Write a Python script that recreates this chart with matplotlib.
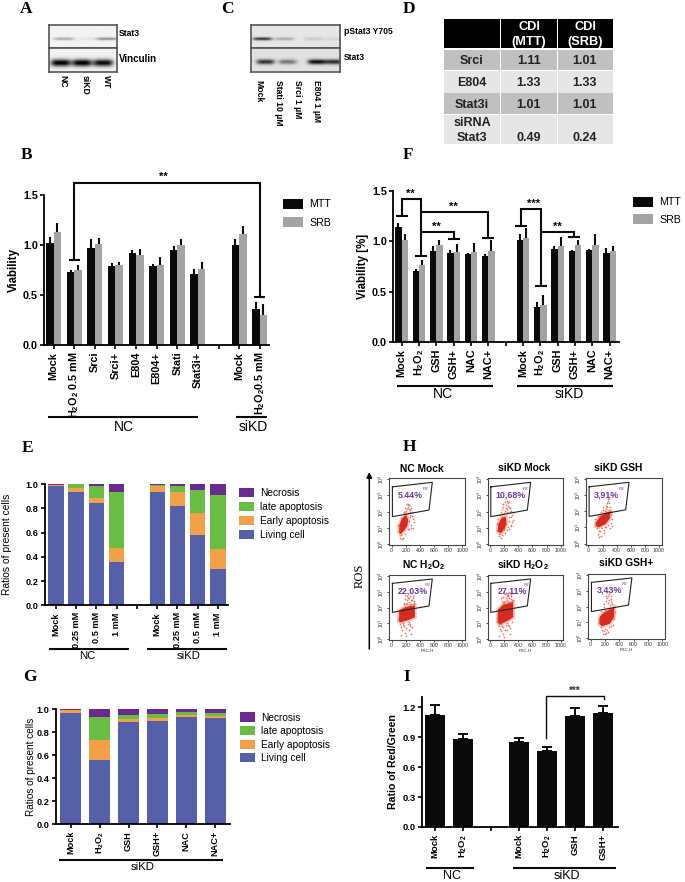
#!/usr/bin/env python3
import numpy as np
import matplotlib; matplotlib.use("Agg"); import matplotlib.pyplot as plt
from matplotlib.patches import Rectangle

plt.rcParams["font.family"] = ["Liberation Sans", "DejaVu Sans"]
plt.rcParams["mathtext.fontset"] = "custom"
plt.rcParams["mathtext.rm"] = "Liberation Sans"
plt.rcParams["mathtext.bf"] = "Liberation Sans:bold"
plt.rcParams["mathtext.default"] = "regular"

W = 685; H = 882
BLACK = "#0a0a0a"; GRAY = "#a3a3a3"
LIVING = "#5660a9"; EARLY = "#f3a04b"; LATE = "#69bd45"; NECRO = "#6b2b8e"
H2O2 = "H$_2$O$_2$"

# Panel A / C blots: band darkness per lane
A_LANES = ["NC", "siKD", "WT"]
A_STAT3 = [0.30, 0.06, 0.42]
A_VINC = [0.97, 0.97, 0.92]
C_LANES = ["Mock", "Stati 10 µM", "Srci 1 µM", "E804 1 µM"]
C_PSTAT = [0.72, 0.24, 0.12, 0.07]
C_STAT3 = [0.70, 0.42, 0.85, 0.72]

# Panel D
D_COLS = ["CDI\n(MTT)", "CDI\n(SRB)"]
D_ROWS = ["Srci", "E804", "Stat3i", "siRNA\nStat3"]
D_MTT = ["1.11", "1.33", "1.01", "0.49"]
D_SRB = ["1.01", "1.33", "1.01", "0.24"]

# Panel B
B_LABELS = ["Mock", H2O2 + " 0.5 mM", "Srci", "Srci+", "E804", "E804+", "Stati", "Stat3i+", "", "Mock", H2O2 + "0.5 mM"]
B_MTT = [1.02, 0.73, 0.97, 0.79, 0.92, 0.79, 0.95, 0.71, np.nan, 1.00, 0.36]
B_SRB = [1.13, 0.75, 1.01, 0.80, 0.90, 0.80, 1.00, 0.76, np.nan, 1.11, 0.30]
B_MTT_ERR = [0.06, 0.02, 0.09, 0.03, 0.03, 0.02, 0.04, 0.05, np.nan, 0.06, 0.07]
B_SRB_ERR = [0.09, 0.05, 0.06, 0.03, 0.06, 0.08, 0.06, 0.07, np.nan, 0.08, 0.11]

# Panel F
F_LABELS = ["Mock", H2O2, "GSH", "GSH+", "NAC", "NAC+", "", "Mock", H2O2, "GSH", "GSH+", "NAC", "NAC+"]
F_MTT = [1.14, 0.71, 0.90, 0.88, 0.87, 0.85, np.nan, 1.01, 0.35, 0.92, 0.905, 0.91, 0.88]
F_SRB = [1.01, 0.76, 0.96, 0.89, 0.89, 0.90, np.nan, 1.03, 0.37, 0.95, 0.96, 0.96, 0.90]
F_MTT_ERR = [0.04, 0.02, 0.05, 0.03, 0.01, 0.02, np.nan, 0.06, 0.05, 0.03, 0.01, 0.01, 0.05]
F_SRB_ERR = [0.06, 0.05, 0.05, 0.08, 0.09, 0.11, np.nan, 0.10, 0.10, 0.09, 0.05, 0.11, 0.05]

# Panel E stacked fractions
E_LABELS = ["Mock", "0.25 mM", "0.5 mM", "1 mM", "", "Mock", "0.25 mM", "0.5 mM", "1 mM"]
E_LIVING = [0.99, 0.935, 0.845, 0.36, 0, 0.94, 0.82, 0.58, 0.30]
E_EARLY = [0.007, 0.035, 0.045, 0.115, 0, 0.05, 0.12, 0.18, 0.165]
E_LATE = [0.001, 0.03, 0.10, 0.465, 0, 0.008, 0.05, 0.195, 0.45]
E_NECRO = [0.002, 0.0, 0.01, 0.06, 0, 0.002, 0.01, 0.045, 0.085]

# Panel G stacked fractions
G_LABELS = ["Mock", H2O2, "GSH", "GSH+", "NAC", "NAC+"]
G_LIVING = [0.97, 0.56, 0.885, 0.895, 0.93, 0.92]
G_EARLY = [0.025, 0.17, 0.03, 0.025, 0.02, 0.025]
G_LATE = [0.002, 0.20, 0.035, 0.04, 0.03, 0.025]
G_NECRO = [0.003, 0.07, 0.05, 0.04, 0.02, 0.03]

# Panel I
I_LABELS = ["Mock", H2O2, "", "Mock", H2O2, "GSH", "GSH+"]
I_VALUES = [1.12, 0.885, np.nan, 0.855, 0.765, 1.115, 1.14]
I_ERR = [0.10, 0.05, np.nan, 0.04, 0.04, 0.08, 0.07]

# Panel H flow plots: dense core outline and outlying events (FSC, log10 ROS)
H_GATE_X = [10, 575, 528, 10]
H_GATE_Y = [3.53, 3.81, 2.10, 1.69]

NCM_CORE_X = [110, 115, 150, 200, 225, 215, 170, 125]
NCM_CORE_Y = [0.75, 1.15, 1.55, 1.75, 1.50, 1.15, 0.85, 0.65]
NCM_X = [170, 190, 210, 230, 250, 270, 285, 180, 205, 225, 245, 265, 200, 235, 255, 215, 240, 260, 290, 300, 310, 280, 270, 250, 130, 100, 95, 120, 240, 260, 105, 140, 230, 300, 165, 195]
NCM_Y = [2.00, 2.25, 2.45, 2.50, 2.40, 2.20, 2.00, 1.90, 2.05, 2.30, 2.15, 1.95, 1.85, 1.90, 1.80, 2.15, 2.40, 2.10, 1.75, 1.55, 1.35, 1.20, 1.00, 0.90, 0.55, 0.85, 1.20, 0.40, 1.40, 1.65, 1.05, 0.30, 0.95, 1.00, 0.35, 0.60]

SKM_CORE_X = [115, 125, 170, 215, 225, 200, 150]
SKM_CORE_Y = [0.80, 1.25, 1.60, 1.65, 1.30, 0.95, 0.70]
SKM_X = [150, 170, 190, 210, 235, 255, 275, 295, 165, 185, 205, 225, 245, 265, 285, 305, 180, 200, 220, 240, 260, 280, 300, 320, 330, 310, 290, 270, 250, 120, 100, 95, 130, 150, 175, 210, 245, 270, 110, 140, 195, 230, 265, 300]
SKM_Y = [1.95, 2.15, 2.45, 2.60, 2.65, 2.55, 2.30, 2.05, 1.85, 2.30, 2.05, 2.40, 2.15, 2.60, 1.95, 1.80, 2.50, 1.90, 2.20, 1.95, 2.35, 2.20, 1.70, 1.95, 1.50, 1.35, 1.15, 1.40, 1.05, 0.65, 0.85, 1.25, 0.50, 0.40, 0.55, 0.70, 0.85, 0.95, 1.55, 1.80, 0.95, 1.25, 1.65, 1.10]

SKG_CORE_X = [110, 120, 170, 260, 305, 300, 240, 150]
SKG_CORE_Y = [1.10, 1.35, 1.65, 1.90, 1.95, 1.60, 1.25, 1.05]
SKG_X = [250, 265, 280, 295, 270, 285, 300, 255, 275, 290, 310, 325, 330, 320, 200, 180, 160, 210, 230, 150, 120, 130, 100, 90, 145, 170, 195, 225, 250, 280, 180, 215, 240, 300, 335, 140]
SKG_Y = [2.35, 2.55, 2.75, 2.50, 2.25, 2.10, 2.30, 2.15, 2.65, 2.85, 2.05, 1.85, 1.50, 1.25, 2.10, 1.95, 1.80, 2.25, 2.05, 0.75, 0.95, 0.60, 1.25, 1.50, 0.40, 0.80, 0.95, 0.85, 1.05, 1.15, 0.50, 0.65, 1.00, 0.95, 1.10, 1.70]

NCH_CORE_X = [110, 115, 200, 320, 320, 240, 130]
NCH_CORE_Y = [1.15, 1.80, 2.00, 2.10, 1.40, 1.25, 1.10]
NCH_X = [170, 190, 210, 230, 250, 270, 290, 310, 180, 200, 220, 240, 260, 280, 300, 320, 195, 215, 235, 255, 275, 295, 315, 120, 135, 150, 165, 185, 205, 225, 245, 265, 280, 130, 160, 200, 260, 180, 240, 100, 95, 285]
NCH_Y = [2.30, 2.55, 2.70, 2.85, 2.60, 2.90, 2.45, 2.30, 2.20, 2.25, 2.50, 2.35, 2.70, 2.20, 2.60, 2.40, 2.80, 2.30, 2.60, 2.20, 2.45, 2.75, 2.20, 0.95, 0.75, 0.55, 0.90, 0.40, 0.70, 0.95, 0.60, 0.85, 0.35, 0.25, 1.00, 0.20, 0.95, 0.85, 1.05, 1.50, 1.25, 0.75]

SKH_CORE_X = [115, 120, 190, 320, 320, 250, 135]
SKH_CORE_Y = [1.15, 1.85, 2.15, 2.30, 1.40, 1.20, 0.95]
SKH_X = [170, 190, 210, 230, 250, 270, 290, 310, 180, 200, 220, 240, 260, 280, 300, 320, 195, 215, 235, 255, 275, 295, 315, 160, 120, 135, 150, 165, 185, 205, 225, 245, 265, 280, 130, 160, 200, 260, 180, 240, 100, 95, 285, 305]
SKH_Y = [2.40, 2.65, 2.85, 2.95, 2.75, 3.00, 2.55, 2.40, 2.30, 2.35, 2.60, 2.45, 2.80, 2.35, 2.70, 2.50, 2.95, 2.40, 2.70, 2.35, 2.60, 2.85, 2.90, 2.60, 0.85, 0.65, 0.50, 0.85, 0.35, 0.60, 0.90, 0.55, 0.80, 0.30, 0.20, 0.95, 0.15, 0.90, 0.75, 1.00, 1.35, 1.05, 0.70, 1.10]

SKP_CORE_X = [125, 135, 190, 270, 320, 320, 260, 160]
SKP_CORE_Y = [0.95, 1.35, 1.60, 1.80, 1.90, 1.35, 0.95, 0.80]
SKP_X = [190, 210, 230, 250, 270, 290, 210, 240, 260, 280, 300, 225, 245, 265, 285, 180, 200, 325, 335, 330, 120, 110, 140, 160, 180, 205, 230, 255, 285, 165, 195, 220, 245, 150, 305]
SKP_Y = [2.15, 2.35, 2.55, 2.80, 2.95, 2.70, 2.70, 2.20, 2.45, 2.30, 2.15, 2.90, 2.65, 2.10, 2.50, 1.95, 1.80, 2.00, 1.65, 1.25, 0.95, 1.20, 0.70, 0.55, 0.45, 0.60, 0.50, 0.70, 0.80, 0.30, 0.25, 0.35, 0.40, 1.75, 0.85]


def px_axes(left, top, right, bottom):
    return fig.add_axes([left / W, 1 - bottom / H, (right - left) / W, (bottom - top) / H])


def style_axes(ax, tick_size, tick_len=3.0):
    for s in ("top", "right"):
        ax.spines[s].set_visible(False)
    for s in ("left", "bottom"):
        ax.spines[s].set_linewidth(1.3)
    ax.tick_params(axis="y", length=tick_len, width=1.2, labelsize=tick_size, pad=1.5)
    ax.tick_params(axis="x", length=tick_len, width=1.2, labelsize=tick_size, pad=2)
    for t in ax.get_yticklabels():
        t.set_fontweight("bold")


def set_xlabels(ax, labels, size):
    ax.set_xticks(range(len(labels)))
    ax.set_xticklabels(labels, rotation=90, fontsize=size, fontweight="bold", ha="center", va="top")


def grouped(ax, mtt, srb, mtt_err, srb_err, labels, xlim, tick_size, label_size, width):
    x = np.arange(len(labels))
    zeros = np.zeros(len(x))
    ax.bar(x - width / 2, mtt, width, color=BLACK, label="MTT")
    ax.bar(x + width / 2, srb, width, color=GRAY, label="SRB")
    ax.errorbar(x - width / 2, mtt, yerr=[zeros, mtt_err], fmt="none", ecolor=BLACK, elinewidth=1.5)
    ax.errorbar(x + width / 2, srb, yerr=[zeros, srb_err], fmt="none", ecolor=BLACK, elinewidth=1.5)
    ax.set_xlim(*xlim); ax.set_ylim(0, 1.5)
    ax.set_yticks([0, 0.5, 1.0, 1.5]); ax.set_yticklabels(["0.0", "0.5", "1.0", "1.5"])
    set_xlabels(ax, labels, label_size)
    style_axes(ax, tick_size)


def stacked(ax, living, early, late, necro, labels, xlim, width, tick_size, label_size):
    x = np.arange(len(labels))
    liv = np.array(living); ear = np.array(early); lat = np.array(late); nec = np.array(necro)
    ax.bar(x, nec, width, bottom=liv + ear + lat, color=NECRO, label="Necrosis")
    ax.bar(x, lat, width, bottom=liv + ear, color=LATE, label="late apoptosis")
    ax.bar(x, ear, width, bottom=liv, color=EARLY, label="Early apoptosis")
    ax.bar(x, liv, width, color=LIVING, label="Living cell")
    ax.set_xlim(*xlim); ax.set_ylim(0, 1.0)
    ax.set_yticks(np.arange(0, 1.01, 0.2)); ax.set_yticklabels(["0.0", "0.2", "0.4", "0.6", "0.8", "1.0"])
    set_xlabels(ax, labels, label_size)
    style_axes(ax, tick_size)


def legend_at(ax, left, top, size, pitch_gap, handle_len, handle_h=1.0):
    ax.legend(loc="upper left", bbox_to_anchor=(left / W, 1 - top / H), bbox_transform=fig.transFigure,
              frameon=False, borderpad=0, borderaxespad=0, fontsize=size, handlelength=handle_len,
              handleheight=handle_h, handletextpad=0.6, labelspacing=pitch_gap)


def bracket(ax, xs, ys, lw=1.5):
    ax.plot(xs, ys, color=BLACK, lw=lw, clip_on=False, solid_capstyle="butt", solid_joinstyle="miter", zorder=5)


def under(xa, xb, y, name, text_x, text_y, size=10):
    pg.plot([xa, xb], [y, y], color=BLACK, lw=1.5, solid_capstyle="butt")
    pg.text(text_x, text_y, name, fontsize=size, ha="center", va="center", clip_on=False)


def blot_strip(left, top, right, bottom, centers, half_w, half_h, strengths, bg):
    ax = px_axes(left, top, right, bottom)
    xx, yy = np.meshgrid(np.linspace(left, right, 220), np.linspace(top, bottom, 70))
    mid = top + (bottom - top) * 0.62
    img = np.full(xx.shape, bg)
    for c, s in zip(centers, strengths):
        img = img - s * np.exp(-((xx - c) / half_w) ** 4) * np.exp(-((yy - mid) / half_h) ** 2)
    ax.imshow(np.clip(img, 0, 1), cmap="gray", vmin=0, vmax=1, aspect="auto", interpolation="bilinear")
    ax.set_xticks([]); ax.set_yticks([])
    for s in ax.spines.values():
        s.set_color("#555555"); s.set_linewidth(1.2)


def flow_panel(left, top, right, bottom, core_x, core_y, xs, ys, pct, pct_x, title, title_x, title_y, fsc=False):
    ax = px_axes(left, top, right, bottom)
    ax.fill(core_x, core_y, color="#ee9486", lw=3.5, alpha=0.55, zorder=1)
    ax.fill(core_x, core_y, color="#d62c1f", lw=0.8, zorder=2)
    ax.scatter(xs, ys, s=1.6, color="#e8604f", lw=0, alpha=0.85, zorder=2)
    ax.plot(H_GATE_X + H_GATE_X[:1], H_GATE_Y + H_GATE_Y[:1], color="#222222", lw=0.8, zorder=3)
    ax.set_xlim(-34, 1038); ax.set_ylim(-0.06, 4.06)
    ax.set_xticks(range(0, 1001, 200)); ax.set_xticklabels(["0", "200", "400", "600", "800", "1000"])
    ax.set_yticks(range(5)); ax.set_yticklabels(["$10^{%d}$" % i for i in range(5)], rotation=90, va="center")
    ax.tick_params(axis="both", labelsize=3.8, length=1.5, width=0.5, pad=0.8, labelcolor="#333333")
    for s in ax.spines.values():
        s.set_color("#444444"); s.set_linewidth(0.8)
    ax.text(pct_x, 3.02, pct, color="#6a3d9a", fontsize=6.4, fontweight="bold", ha="center", va="center", zorder=4)
    ax.text(pct_x + 205, 3.42, "R2", color="#6a3d9a", fontsize=3.2, ha="center", va="center", zorder=4)
    if fsc:
        ax.set_xlabel("FSC-H", fontsize=3.2, labelpad=0.5, color="#333333")
    pg.text(title_x, title_y, title, fontsize=7.4, fontweight="bold", ha="center", va="center")


fig = plt.figure(figsize=(W / 100, H / 100), dpi=100)
pg = fig.add_axes([0, 0, 1, 1], zorder=10)
pg.set_xlim(0, W); pg.set_ylim(H, 0); pg.axis("off"); pg.patch.set_alpha(0)

# panel letters
for letter, lx, ly in [("A", 26, 9), ("C", 227, 9), ("D", 409, 9), ("B", 27, 155), ("F", 408, 155),
                       ("E", 28, 448), ("H", 409, 447), ("G", 30, 677), ("I", 407, 677)]:
    pg.text(lx, ly, letter, family=["Liberation Serif"], fontsize=12.5, fontweight="bold", ha="center", va="center")

# A
blot_strip(49.3, 25, 116.7, 48.3, [64, 88, 107], 10.5, 1.3, A_STAT3, 0.95)
blot_strip(49.3, 48.3, 116.7, 71.7, [61, 82, 103], 10, 3.5, A_VINC, 0.95)
pg.text(119, 34, "Stat3", fontsize=6.2, fontweight="bold", va="center")
pg.text(119, 59.5, "Vinculin", fontsize=7, fontweight="bold", va="center")
for name, lx in zip(A_LANES, [63, 85, 106.7]):
    pg.text(lx, 75, name, fontsize=6.2, fontweight="bold", rotation=-90, ha="center", va="top")

# C
blot_strip(250.7, 25, 340, 48.3, [262, 284, 313, 333], 9.5, 1.5, C_PSTAT, 0.90)
blot_strip(250.7, 48.3, 340, 71.5, [265, 287, 316, 333], 9, 2.4, C_STAT3, 0.88)
pg.text(344, 32, "pStat3 Y705", fontsize=6.2, fontweight="bold", va="center")
pg.text(344, 57, "Stat3", fontsize=6.2, fontweight="bold", va="center")
for name, lx in zip(C_LANES, [259, 279, 298, 317]):
    pg.text(lx, 80, name, fontsize=6.2, fontweight="bold", rotation=-90, ha="center", va="top")

# D table
col_edges = [(444.3, 500.3), (501, 557), (557.7, 613.3)]
row_edges = [(50, 70), (70.7, 92.7), (93.3, 114), (114.7, 144)]
row_fill = ["#c0c0c0", "#e6e6e6", "#c0c0c0", "#e6e6e6"]
for a, b in col_edges:
    pg.add_patch(Rectangle((a, 19), b - a, 28.7, color="black", lw=0))
    for (t, u), c in zip(row_edges, row_fill):
        pg.add_patch(Rectangle((a, t), b - a, u - t, color=c, lw=0))
for name, (a, b) in zip(D_COLS, col_edges[1:]):
    l1, l2 = name.split("\n")
    pg.text((a + b) / 2, 27, l1, color="white", fontsize=9.2, fontweight="bold", ha="center", va="center")
    pg.text((a + b) / 2, 42, l2, color="white", fontsize=9.2, fontweight="bold", ha="center", va="center")
for i, (t, u) in enumerate(row_edges):
    ty = 0.5 * (t + u) if i < 3 else 138
    if i < 3:
        pg.text(472, ty + 1, D_ROWS[i], fontsize=9, fontweight="bold", ha="center", va="center", color="#222222")
    else:
        l1, l2 = D_ROWS[i].split("\n")
        pg.text(472, 123, l1, fontsize=9, fontweight="bold", ha="center", va="center", color="#222222")
        pg.text(472, 138, l2, fontsize=9, fontweight="bold", ha="center", va="center", color="#222222")
    for name, cx in [(D_MTT[i], 529), (D_SRB[i], 585)]:
        pg.text(cx, ty + 1 if i < 3 else ty, name, fontsize=9, fontweight="bold", ha="center", va="center", color="#222222")

# B
ax_b = px_axes(44, 194.7, 269, 344.7)
grouped(ax_b, B_MTT, B_SRB, B_MTT_ERR, B_SRB_ERR, B_LABELS, (-0.47, 10.45), 7.8, 7.8, 0.36)
ax_b.set_ylabel("Viability", fontsize=8.3, fontweight="bold", labelpad=2)
bracket(ax_b, [1, 1, 10, 10], [0.85, 1.62, 1.62, 0.48])
bracket(ax_b, [0.72, 1.28], [0.85, 0.85])
bracket(ax_b, [9.72, 10.28], [0.48, 0.48])
ax_b.text(5.3, 1.63, "**", fontsize=8, ha="center", va="bottom", fontweight="bold")
legend_at(ax_b, 283, 199, 7.7, 0.74, 1.85)
under(48, 198, 417, "NC", 124, 427)
under(236, 267, 417, "siKD", 253, 427)

# F
ax_f = px_axes(393.3, 191.3, 619.3, 341.7)
grouped(ax_f, F_MTT, F_SRB, F_MTT_ERR, F_SRB_ERR, F_LABELS, (-0.48, 12.56), 7.8, 7.8, 0.36)
ax_f.set_ylabel("Viability [%]", fontsize=8.3, fontweight="bold", labelpad=2)
bracket(ax_f, [0, 0, 1.12, 1.12], [1.257, 1.42, 1.42, 0.855])
bracket(ax_f, [-0.35, 0.35], [1.257, 1.257])
bracket(ax_f, [0.76, 1.48], [0.855, 0.855])
bracket(ax_f, [1.12, 5, 5], [1.297, 1.297, 1.03])
bracket(ax_f, [4.65, 5.35], [1.03, 1.03])
bracket(ax_f, [1.12, 3, 3], [1.097, 1.097, 1.024])
bracket(ax_f, [2.65, 3.35], [1.024, 1.024])
bracket(ax_f, [6.9, 6.9, 8.02, 8.02], [1.157, 1.324, 1.324, 0.555])
bracket(ax_f, [6.55, 7.25], [1.157, 1.157])
bracket(ax_f, [7.67, 8.37], [0.555, 0.555])
bracket(ax_f, [8.02, 9.93, 9.93], [1.097, 1.097, 1.04])
bracket(ax_f, [9.58, 10.28], [1.04, 1.04])
for sx, sy, s in [(0.52, 1.42, "**"), (3.0, 1.30, "**"), (2.0, 1.10, "**"), (7.6, 1.33, "***"), (9.0, 1.10, "**")]:
    ax_f.text(sx, sy, s, fontsize=8, ha="center", va="bottom", fontweight="bold")
legend_at(ax_f, 633, 197, 7.7, 0.65, 1.85)
under(397, 493, 386, "NC", 443, 394)
under(517.5, 613, 386, "siKD", 569, 394)

# E
ax_e = px_axes(45, 484.3, 227.7, 605.3)
stacked(ax_e, E_LIVING, E_EARLY, E_LATE, E_NECRO, E_LABELS, (-0.54, 8.48), 0.76, 6.6, 6.6)
ax_e.set_ylabel("Ratios of present cells", fontsize=7.4, labelpad=10)
legend_at(ax_e, 239, 488, 7.3, 0.38, 1.5)
under(49.5, 129, 648.5, "NC", 87, 656, 8.2)
under(147.5, 227, 648.5, "siKD", 189, 656, 8.2)

# G
ax_g = px_axes(56, 709.3, 230, 824)
stacked(ax_g, G_LIVING, G_EARLY, G_LATE, G_NECRO, G_LABELS, (-0.52, 5.52), 0.73, 6.6, 6.4)
ax_g.set_ylabel("Ratios of present cells", fontsize=7.2, labelpad=0.5)
legend_at(ax_g, 240, 712.5, 7.3, 0.35, 1.5)
under(59, 222.7, 860, "siKD", 142.7, 867, 8.2)

# I
ax_i = px_axes(421.7, 696.7, 617.7, 827)
x_i = np.arange(len(I_LABELS))
ax_i.bar(x_i, I_VALUES, 0.72, color=BLACK)
ax_i.errorbar(x_i, I_VALUES, yerr=[np.zeros(len(x_i)), I_ERR], fmt="none", ecolor=BLACK, elinewidth=1.4, capsize=3.6, capthick=1.4)
ax_i.set_xlim(-0.49, 6.54); ax_i.set_ylim(0, 1.307)
ax_i.set_yticks([0, 0.3, 0.6, 0.9, 1.2]); ax_i.set_yticklabels(["0.0", "0.3", "0.6", "0.9", "1.2"])
set_xlabels(ax_i, I_LABELS, 6.6)
style_axes(ax_i, 6.8)
ax_i.set_ylabel("Ratio of Red/Green", fontsize=7.6, fontweight="bold", labelpad=3)
ax_i.plot([3.97, 3.97, 6.05, 6.05], [0.89, 1.317, 1.317, 1.28], color=BLACK, lw=1.0, clip_on=False)
ax_i.text(5.0, 1.32, "***", fontsize=7, ha="center", va="bottom", fontweight="bold", color="#333333")
under(425.7, 474.3, 868, "NC", 452.3, 876, 9)
under(512.7, 615.7, 868, "siKD", 567.3, 876, 9)

# H
flow_panel(389.3, 478.3, 465, 545, NCM_CORE_X, NCM_CORE_Y, NCM_X, NCM_Y, "5.44%", 269, "NC Mock", 421.7, 469)
flow_panel(487.7, 478.3, 563.3, 545, SKM_CORE_X, SKM_CORE_Y, SKM_X, SKM_Y, "10,68%", 292, "siKD Mock", 524, 467.7)
flow_panel(586, 478.3, 661.7, 544.5, SKG_CORE_X, SKG_CORE_Y, SKG_X, SKG_Y, "3,91%", 259, "siKD GSH", 618.3, 467.7)
flow_panel(389.3, 575, 465, 640, NCH_CORE_X, NCH_CORE_Y, NCH_X, NCH_Y, "22.03%", 306, "NC H$_2$O$_2$", 424, 565, True)
flow_panel(487.7, 575, 563.3, 640, SKH_CORE_X, SKH_CORE_Y, SKH_X, SKH_Y, "27,11%", 316, "siKD H$_2$O$_2$", 522.7, 565, True)
flow_panel(588.3, 574, 665, 639.3, SKP_CORE_X, SKP_CORE_Y, SKP_X, SKP_Y, "3,43%", 264, "siKD GSH+", 626, 563, True)
pg.annotate("", xy=(369.3, 472), xytext=(369.3, 649), arrowprops=dict(arrowstyle="-|>", color="black", lw=1.1, mutation_scale=8, shrinkA=0, shrinkB=0))
pg.text(360, 575.7, "ROS", family=["Liberation Serif"], fontsize=9, rotation=90, ha="center", va="center")

fig.savefig("out.png", dpi=100)
